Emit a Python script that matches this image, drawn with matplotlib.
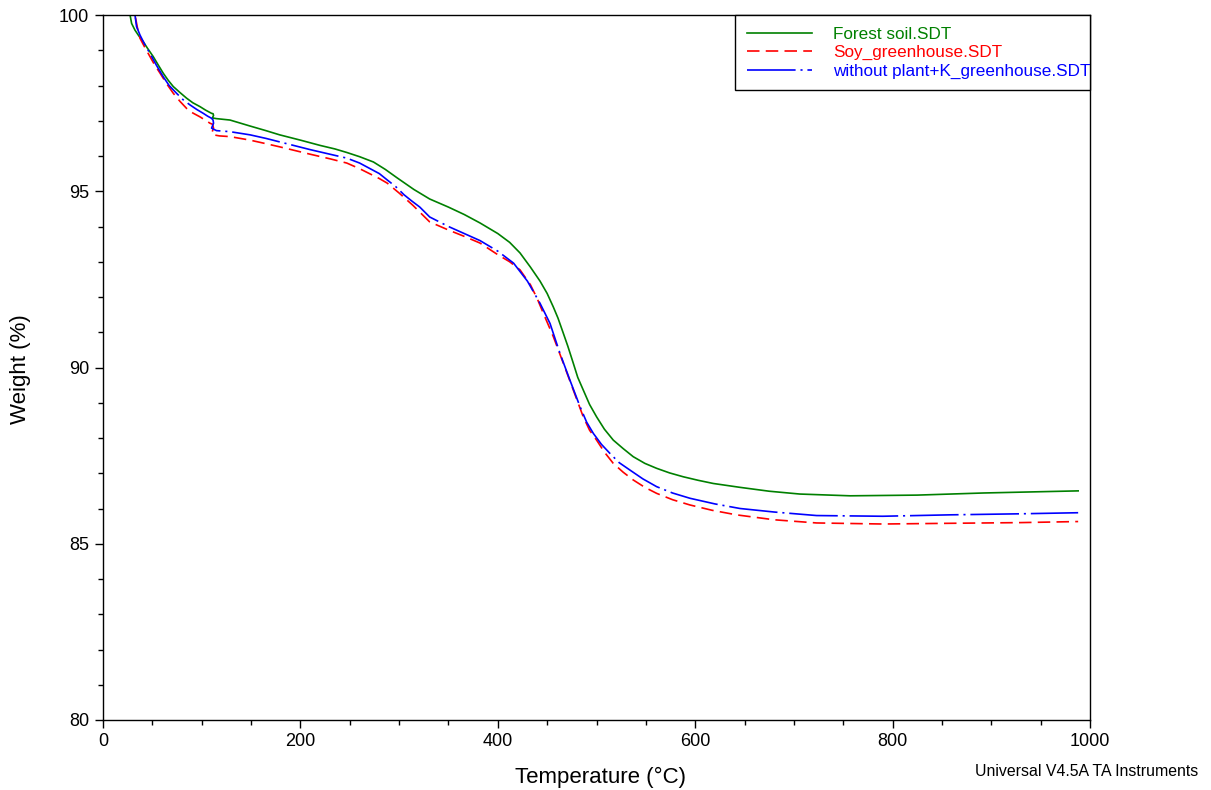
import matplotlib
matplotlib.use("Agg")
import matplotlib.pyplot as plt
from matplotlib.ticker import MultipleLocator

plt.rcParams['font.family'] = ['Liberation Sans', 'DejaVu Sans']
plt.rcParams['lines.scale_dashes'] = False

# TGA weight-loss curves (temperature in °C, weight in %)
forest_T = [26, 27.4, 29, 32.4, 36, 40.8, 45, 50.9, 56, 61, 66, 71.2, 78, 84.7, 91, 98.3,
            104, 110, 111.5, 112, 110.8, 115, 128.7, 149, 165, 179, 200, 220, 235, 247,
            260, 274, 286, 298, 315, 331, 350, 366, 382, 400, 412, 422.5, 433, 442.8, 450,
            456.2, 461, 466.4, 471, 476.5, 481, 486.6, 493, 500.1, 508, 517, 527, 537.2,
            549, 560.9, 574, 587.9, 603, 618.3, 645.4, 675, 706, 757, 825, 892, 940, 988]
forest_W = [100.5, 100.0, 99.76, 99.57, 99.42, 99.24, 99.06, 98.82, 98.58, 98.35, 98.15,
            97.97, 97.8, 97.64, 97.51, 97.4, 97.3, 97.21, 97.2, 97.15, 97.08, 97.06, 97.02,
            96.85, 96.72, 96.6, 96.45, 96.3, 96.2, 96.1, 95.98, 95.83, 95.62, 95.38, 95.05,
            94.78, 94.55, 94.34, 94.1, 93.8, 93.55, 93.25, 92.85, 92.45, 92.1, 91.72, 91.4,
            90.97, 90.6, 90.12, 89.72, 89.36, 88.95, 88.6, 88.25, 87.94, 87.7, 87.47, 87.28,
            87.14, 87.01, 86.9, 86.8, 86.71, 86.6, 86.49, 86.41, 86.36, 86.38, 86.44, 86.47,
            86.5]

soy_T = [31, 32.4, 35, 37.5, 42, 47.6, 52, 57.8, 64.5, 71.2, 78, 84.7, 91, 98.3, 104, 108.4,
         111, 112, 110, 112, 118, 128.7, 149, 165, 179, 210, 230, 247, 260, 270, 280, 288,
         300, 314, 331, 350, 366, 382, 400, 412, 422.5, 433, 440, 446.1, 456.2, 466.4,
         476.5, 486.6, 493, 500.1, 508, 517, 527, 537.2, 549, 560.9, 577, 594.7, 617,
         641.8, 680, 723, 790, 858, 930, 988]
soy_W = [100.5, 100.0, 99.62, 99.34, 99.1, 98.82, 98.6, 98.35, 98.05, 97.78, 97.55, 97.35,
         97.22, 97.11, 97.01, 96.93, 96.9, 96.79, 96.64, 96.6, 96.57, 96.55, 96.45, 96.35,
         96.26, 96.05, 95.92, 95.8, 95.64, 95.5, 95.36, 95.23, 94.95, 94.6, 94.13, 93.9,
         93.72, 93.53, 93.2, 93.0, 92.77, 92.35, 91.95, 91.54, 90.88, 90.12, 89.36, 88.6,
         88.22, 87.94, 87.6, 87.28, 87.03, 86.81, 86.6, 86.43, 86.25, 86.1, 85.95, 85.82,
         85.68, 85.59, 85.56, 85.58, 85.6, 85.63]

noplant_T = [31, 32.4, 34, 37.5, 42, 47.6, 54, 61, 67, 74.5, 81, 88.1, 95, 101.6, 106, 110,
             111.5, 112, 110, 113.5, 115, 128.7, 149, 165, 179, 210, 230, 247, 260, 270,
             280, 288, 297, 305, 313, 321, 331, 350, 366, 382, 400, 416, 430, 442.8, 452.9,
             463, 473.1, 483.3, 490, 496.8, 505, 513.7, 523, 533.9, 547, 560.9, 577, 594.7,
             620, 645.4, 680, 723, 790, 858, 930, 988]
noplant_W = [100.5, 100.0, 99.67, 99.43, 99.18, 98.91, 98.58, 98.25, 98.0, 97.78, 97.6,
             97.45, 97.32, 97.21, 97.13, 97.07, 97.02, 96.93, 96.79, 96.74, 96.72, 96.69,
             96.6, 96.5, 96.4, 96.18, 96.05, 95.94, 95.8, 95.65, 95.5, 95.32, 95.12, 94.9,
             94.72, 94.55, 94.27, 94.0, 93.8, 93.6, 93.3, 92.96, 92.45, 91.82, 91.25, 90.4,
             89.64, 88.89, 88.45, 88.13, 87.82, 87.56, 87.3, 87.09, 86.84, 86.62, 86.44,
             86.29, 86.13, 86.0, 85.9, 85.8, 85.78, 85.82, 85.85, 85.88]

labels = ["Forest soil.SDT", "Soy_greenhouse.SDT", "without plant+K_greenhouse.SDT"]

fig = plt.figure(figsize=(12.11, 7.90), dpi=100)
ax = fig.add_axes([103 / 1211, 1 - 720 / 790, 987 / 1211, 705 / 790])

lw = 1.2
ax.plot(forest_T, forest_W, color='#008000', lw=lw, label=labels[0])
ax.plot(soy_T, soy_W, color='#ff0000', lw=lw, dashes=(9, 4.5), label=labels[1])
ax.plot(noplant_T, noplant_W, color='#0000ff', lw=lw, dashes=(35, 3.5, 1.5, 3.5),
        label=labels[2])

ax.set_xlim(0, 1000)
ax.set_ylim(80, 100)
ax.xaxis.set_major_locator(MultipleLocator(200))
ax.xaxis.set_minor_locator(MultipleLocator(50))
ax.yaxis.set_major_locator(MultipleLocator(5))
ax.yaxis.set_minor_locator(MultipleLocator(1))
ax.tick_params(which='both', direction='out', top=False, right=False, width=1,
               labelsize=13, colors='black')
ax.tick_params(which='major', length=6)
ax.tick_params(which='minor', length=3.5)
ax.tick_params(axis='x', pad=3)
ax.tick_params(axis='y', pad=4)
for s in ax.spines.values():
    s.set_linewidth(1.0)
    s.set_color('black')

ax.set_xlabel("Temperature (°C)", fontsize=16)
ax.set_ylabel("Weight (%)", fontsize=16)
ax.xaxis.set_label_coords(0.5045, -0.066)
ax.yaxis.set_label_coords(-0.073, 0.497)

leg = ax.legend(loc='upper left', bbox_to_anchor=(632 / 987, 0.0, 355 / 987, 1.0),
                mode='expand', borderaxespad=0, fontsize=12.3, handlelength=3.85,
                handletextpad=1.2, labelspacing=0.2, borderpad=0.68, fancybox=False,
                framealpha=1, edgecolor='black', labelcolor='linecolor')
leg.get_frame().set_linewidth(1.0)

fig.text(1198 / 1211, 1 - 771 / 790, "Universal V4.5A TA Instruments", fontsize=11.4,
         ha='right', va='center')

fig.savefig("out.png", dpi=100)
